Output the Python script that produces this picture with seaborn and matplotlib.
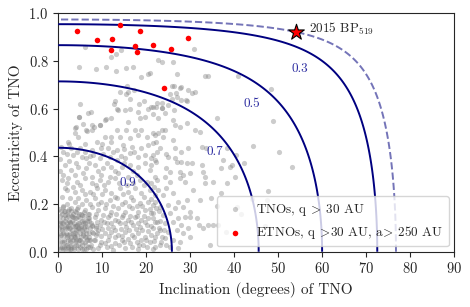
import numpy as np
import pandas as pd
import seaborn as sns
import matplotlib.pyplot as plt

# TNOs with q > 30 AU, (inclination deg, eccentricity)
tno_high = [
    (6.0, 0.86), (14.2, 0.846), (13.2, 0.828), (12.0, 0.818), (4.6, 0.773), (8.6, 0.765),
    (10.8, 0.776), (13.1, 0.759), (15.4, 0.772), (16.9, 0.776), (18.7, 0.733), (20.4, 0.745),
    (22.7, 0.804), (23.6, 0.796), (26.1, 0.796), (27.0, 0.745), (30.8, 0.850), (27.7, 0.685),
    (29.6, 0.678), (31.1, 0.670), (33.3, 0.737), (34.1, 0.737), (40.8, 0.736), (48.3, 0.684),
    (15.6, 0.695), (14.0, 0.668), (15.8, 0.671), (12.8, 0.632), (16.2, 0.639), (18.3, 0.618),
    (19.6, 0.632), (21.1, 0.608), (4.9, 0.620), (12.7, 0.618), (13.4, 0.600), (15.5, 0.660),
    (17.3, 0.680), (23.7, 0.604), (26.4, 0.594), (28.0, 0.636), (29.2, 0.632), (6.7, 0.580),
    (10.8, 0.555), (20.8, 0.748), (25.8, 0.695), (26.3, 0.695), (27.8, 0.690), (30.5, 0.667),
    (25.5, 0.660), (26.7, 0.664), (26.9, 0.650), (29.0, 0.636), (22.4, 0.622), (23.5, 0.625),
    (22.2, 0.608), (25.0, 0.615), (25.8, 0.639), (9.4, 0.531), (7.7, 0.531), (3.7, 0.499),
    (4.0, 0.523), (4.8, 0.564), (6.6, 0.508),
]
tno_mid = [
    (7.5, 0.587), (4.6, 0.566), (5.7, 0.534), (6.4, 0.510), (7.6, 0.510), (8.2, 0.524),
    (9.5, 0.531), (10.6, 0.552), (12.1, 0.559), (13.6, 0.594), (15.2, 0.594), (16.3, 0.598),
    (18.2, 0.587), (20.5, 0.598), (21.6, 0.576), (18.6, 0.559), (19.8, 0.566), (15.9, 0.545),
    (17.4, 0.510), (18.9, 0.510), (15.5, 0.510), (13.3, 0.510), (12.1, 0.482), (10.6, 0.482),
    (8.7, 0.461), (4.5, 0.482), (3.8, 0.517), (2.3, 0.461), (14.0, 0.482), (16.3, 0.475),
    (18.2, 0.489), (20.1, 0.482), (21.6, 0.496), (22.3, 0.461), (20.5, 0.447), (18.9, 0.433),
    (16.7, 0.440), (14.8, 0.447), (13.3, 0.426), (11.4, 0.433), (9.8, 0.433), (7.6, 0.426),
    (6.1, 0.419), (4.9, 0.433), (3.0, 0.433), (1.1, 0.419), (3.4, 0.405), (5.3, 0.398),
    (6.4, 0.391), (8.0, 0.405), (9.5, 0.391), (11.7, 0.398), (13.3, 0.384), (15.2, 0.391),
    (16.3, 0.412), (18.2, 0.398), (19.7, 0.405), (21.2, 0.391), (19.7, 0.370), (18.2, 0.356),
    (16.3, 0.363), (14.4, 0.356), (12.1, 0.356), (10.2, 0.349), (8.3, 0.363), (6.4, 0.349),
    (4.5, 0.356), (3.0, 0.342), (1.5, 0.363), (1.1, 0.321), (3.8, 0.321), (5.7, 0.328),
    (7.6, 0.314), (9.8, 0.321), (11.7, 0.314), (13.6, 0.328), (15.9, 0.314), (17.8, 0.321),
    (20.8, 0.342), (22.0, 0.314), (22.3, 0.377),
    (21.6, 0.608), (23.5, 0.601), (22.7, 0.559), (24.2, 0.580), (26.1, 0.552), (27.7, 0.524),
    (26.5, 0.531), (29.2, 0.538), (36.0, 0.562), (31.1, 0.510), (32.2, 0.503), (23.5, 0.510),
    (24.2, 0.510), (22.0, 0.489), (22.7, 0.496), (23.9, 0.482), (26.1, 0.468), (21.6, 0.454),
    (23.1, 0.433), (22.4, 0.419), (26.5, 0.433), (28.0, 0.419), (29.5, 0.436), (32.6, 0.440),
    (33.7, 0.433), (21.6, 0.405), (22.0, 0.384), (24.6, 0.408), (25.0, 0.398), (26.5, 0.391),
    (26.9, 0.377), (28.0, 0.377), (29.2, 0.370), (30.3, 0.370), (32.6, 0.363), (37.1, 0.349),
    (39.0, 0.356), (39.4, 0.363), (37.5, 0.384), (38.3, 0.433), (21.2, 0.363), (24.6, 0.349),
    (25.4, 0.335), (27.7, 0.335), (28.4, 0.321), (29.9, 0.328), (33.0, 0.335), (33.3, 0.314),
    (42.2, 0.371), (53.2, 0.354), (50.2, 0.417), (44.2, 0.443), (48.9, 0.550), (40.5, 0.406),
    (2.0, 0.29), (5.0, 0.28), (8.5, 0.28), (10.4, 0.28), (13.8, 0.29), (15.6, 0.28),
    (17.0, 0.29), (19.6, 0.28), (21.8, 0.27), (0.5, 0.34), (2.5, 0.38), (4.0, 0.37),
    (7.0, 0.37), (9.0, 0.34), (11.0, 0.37), (13.0, 0.34), (15.0, 0.37), (17.0, 0.34),
    (0.4, 0.39), (2.0, 0.41), (4.2, 0.42), (7.2, 0.40), (10.2, 0.41), (12.5, 0.42),
    (14.2, 0.40), (17.3, 0.42), (0.6, 0.44), (2.4, 0.45), (6.0, 0.45), (10.0, 0.45),
    (12.0, 0.46), (15.0, 0.43),
]
tno_low = [
    (0.8, 0.301), (2.3, 0.308), (4.2, 0.294), (6.1, 0.311), (7.6, 0.287), (9.5, 0.301),
    (11.4, 0.294), (12.9, 0.308), (18.6, 0.301), (20.1, 0.294), (1.5, 0.266), (3.4, 0.273),
    (5.3, 0.259), (7.2, 0.252), (8.7, 0.266), (10.6, 0.259), (12.1, 0.245), (14.0, 0.266),
    (15.9, 0.252), (17.4, 0.266), (18.9, 0.245), (20.8, 0.259), (22.0, 0.238), (0.8, 0.231),
    (2.7, 0.224), (4.5, 0.224), (6.4, 0.217), (8.3, 0.224), (9.8, 0.210), (11.7, 0.217),
    (13.3, 0.224), (15.2, 0.210), (17.0, 0.217), (18.6, 0.203), (20.5, 0.210), (21.6, 0.196),
    (1.1, 0.189), (3.0, 0.182), (4.5, 0.189), (6.1, 0.175), (7.6, 0.189), (9.1, 0.175),
    (10.6, 0.182), (12.1, 0.168), (13.6, 0.182), (15.2, 0.168), (16.7, 0.182), (18.2, 0.168),
    (19.7, 0.175), (21.2, 0.161), (22.3, 0.182), (1.5, 0.154), (3.4, 0.147), (5.3, 0.154),
    (6.8, 0.140), (8.3, 0.147), (9.8, 0.133), (11.4, 0.147), (12.9, 0.133), (14.4, 0.147),
    (15.9, 0.133), (17.4, 0.147), (18.9, 0.133), (20.5, 0.140), (22.0, 0.126), (0.8, 0.119),
    (2.7, 0.126), (4.2, 0.112), (6.1, 0.119), (7.6, 0.112), (9.5, 0.112), (11.0, 0.119),
    (12.5, 0.105), (14.0, 0.119), (15.5, 0.105), (17.0, 0.112), (18.6, 0.105), (20.1, 0.112),
    (21.6, 0.098), (7.6, 0.084), (9.1, 0.091), (10.6, 0.077), (12.1, 0.084), (13.6, 0.070),
    (15.2, 0.084), (16.7, 0.070), (18.2, 0.077), (19.7, 0.063), (21.2, 0.070), (8.3, 0.049),
    (9.8, 0.042), (11.4, 0.049), (12.9, 0.035), (14.4, 0.049), (16.3, 0.035), (17.8, 0.042),
    (19.3, 0.028), (20.8, 0.042), (9.1, 0.014), (11.0, 0.021), (12.5, 0.007), (15.2, 0.014),
    (18.2, 0.012), (22.0, 0.021),
    (21.2, 0.287), (22.4, 0.301), (24.2, 0.315), (25.4, 0.294), (27.7, 0.308), (28.8, 0.294),
    (22.7, 0.259), (24.6, 0.266), (23.9, 0.238), (26.1, 0.245), (27.3, 0.210), (29.2, 0.217),
    (22.0, 0.210), (23.1, 0.189), (25.0, 0.196), (26.5, 0.182), (28.4, 0.189), (29.9, 0.168),
    (21.6, 0.161), (23.9, 0.154), (25.4, 0.161), (27.3, 0.140), (28.8, 0.147), (22.4, 0.126),
    (24.2, 0.119), (26.1, 0.126), (28.0, 0.112), (29.5, 0.098), (23.1, 0.091), (25.0, 0.084),
    (26.9, 0.091), (28.4, 0.077), (22.0, 0.063), (24.2, 0.056), (26.1, 0.049), (27.7, 0.042),
    (23.1, 0.028), (25.4, 0.021), (27.3, 0.014), (29.9, 0.063),
    (30.7, 0.259), (32.2, 0.217), (33.3, 0.287), (35.2, 0.294), (34.7, 0.224), (36.0, 0.193),
    (37.1, 0.245), (38.4, 0.287), (32.0, 0.112), (33.0, 0.098), (34.1, 0.112), (35.2, 0.112),
    (34.5, 0.028), (31.5, 0.140), (29.9, 0.147), (36.4, 0.112), (40.7, 0.189), (41.5, 0.157),
    (38.1, 0.081), (47.0, 0.108), (44.0, 0.220), (47.7, 0.253), (47.4, 0.218), (40.2, 0.315),
    (1.9, 0.26), (3.9, 0.25), (6.0, 0.24), (8.0, 0.24), (10.0, 0.24), (12.8, 0.23),
    (14.8, 0.24), (16.5, 0.23), (19.5, 0.23), (21.0, 0.22), (2.0, 0.20), (3.8, 0.21),
    (5.5, 0.20), (7.2, 0.20), (9.0, 0.20), (10.8, 0.20), (12.5, 0.19), (14.4, 0.20),
    (16.0, 0.19), (17.8, 0.19), (19.0, 0.19), (20.8, 0.18), (23.0, 0.17), (2.2, 0.17),
    (4.0, 0.165), (5.8, 0.165), (7.0, 0.16), (8.6, 0.16), (10.2, 0.155), (11.8, 0.155),
    (13.2, 0.16), (14.8, 0.155), (16.4, 0.15), (18.0, 0.15), (19.6, 0.15), (21.6, 0.14),
    (23.2, 0.13), (7.0, 0.13), (8.8, 0.125), (10.4, 0.125), (12.0, 0.12), (13.6, 0.13),
    (15.2, 0.12), (16.6, 0.125), (18.2, 0.12), (19.8, 0.125), (21.0, 0.11), (22.8, 0.10),
    (24.0, 0.09), (8.6, 0.10), (10.0, 0.095), (11.2, 0.10), (12.8, 0.09), (14.2, 0.095),
    (16.0, 0.09), (17.6, 0.095), (19.0, 0.09), (20.4, 0.085), (22.4, 0.08), (23.6, 0.06),
    (8.6, 0.07), (9.8, 0.065), (11.6, 0.065), (13.0, 0.06), (14.6, 0.065), (15.8, 0.055),
    (17.2, 0.06), (18.8, 0.05), (20.0, 0.05), (21.8, 0.045), (23.4, 0.04), (9.4, 0.03),
    (10.6, 0.035), (12.0, 0.025), (13.8, 0.03), (15.0, 0.04), (16.8, 0.02), (18.4, 0.03),
    (20.2, 0.02), (21.6, 0.01), (24.6, 0.03),
]
tno_core = [
    (0.5, 0.02), (1.2, 0.05), (0.8, 0.09), (1.5, 0.13), (2.0, 0.03), (2.4, 0.07), (2.1, 0.11),
    (2.8, 0.15), (3.0, 0.01), (3.3, 0.05), (3.1, 0.09), (3.6, 0.12), (4.0, 0.03), (4.2, 0.07),
    (4.5, 0.10), (4.1, 0.14), (5.0, 0.02), (5.2, 0.06), (5.5, 0.09), (5.3, 0.13), (6.0, 0.04),
    (6.3, 0.08), (6.1, 0.11), (6.8, 0.02), (7.0, 0.06), (7.2, 0.10), (0.3, 0.06), (0.6, 0.11),
    (0.4, 0.15), (1.0, 0.01), (1.8, 0.08), (1.6, 0.17), (2.6, 0.01), (2.7, 0.10), (3.5, 0.02),
    (3.8, 0.08), (3.4, 0.16), (4.7, 0.05), (4.8, 0.12), (5.8, 0.01), (5.7, 0.07), (5.9, 0.15),
    (6.5, 0.05), (6.6, 0.13), (7.5, 0.03), (7.8, 0.08), (1.3, 0.02), (1.1, 0.12), (2.2, 0.05),
    (2.5, 0.13), (3.9, 0.11), (4.4, 0.01), (4.6, 0.16), (5.4, 0.04), (6.2, 0.01), (7.4, 0.12),
    (0.9, 0.04), (1.9, 0.10), (2.9, 0.06), (3.2, 0.13), (4.3, 0.09), (5.1, 0.11), (6.4, 0.09),
    (8.2, 0.05), (8.5, 0.11), (0.2, 0.10), (1.4, 0.07), (2.3, 0.15), (3.7, 0.04), (4.9, 0.08),
    (5.6, 0.12), (6.9, 0.08), (7.1, 0.14), (8.0, 0.01), (1.7, 0.03), (2.0, 0.12), (3.0, 0.03),
    (3.9, 0.06), (5.0, 0.14), (6.7, 0.16), (0.7, 0.07), (1.5, 0.10), (2.6, 0.04), (3.5, 0.07),
    (4.4, 0.12), (5.3, 0.01), (6.0, 0.06), (7.3, 0.05), (0.4, 0.13), (2.1, 0.01), (4.0, 0.05),
    (5.8, 0.10), (7.7, 0.11), (8.8, 0.08), (0.6, 0.17), (2.4, 0.18), (4.2, 0.18),
    (0.3, 0.01), (0.9, 0.02), (1.6, 0.01), (2.3, 0.02), (2.9, 0.02), (3.6, 0.01), (4.5, 0.03),
    (5.5, 0.03), (6.4, 0.03), (7.2, 0.02), (0.5, 0.04), (1.4, 0.04), (2.0, 0.06), (2.7, 0.05),
    (3.5, 0.06), (4.4, 0.05), (5.0, 0.05), (6.2, 0.06), (6.9, 0.05), (0.5, 0.08), (1.1, 0.08),
    (1.9, 0.07), (2.6, 0.08), (3.4, 0.08), (4.1, 0.09), (4.8, 0.10), (5.6, 0.08), (6.5, 0.11),
    (0.9, 0.10), (1.7, 0.11), (2.4, 0.10), (3.3, 0.11), (4.0, 0.11), (5.2, 0.10), (5.9, 0.13),
    (0.3, 0.12), (1.0, 0.14), (1.8, 0.14), (2.6, 0.12), (3.1, 0.15), (3.8, 0.14), (4.4, 0.15),
    (5.1, 0.16), (0.8, 0.16), (1.3, 0.17), (2.0, 0.16), (2.9, 0.17), (3.7, 0.17), (0.2, 0.18),
    (1.0, 0.19),
]

# ETNOs, q > 30 AU, a > 250 AU
etno_inc = [4.25, 8.8, 12.2, 13.95, 18.6, 12.0, 17.4, 18.0, 21.5, 25.6, 29.6, 24.0]
etno_ecc = [0.927, 0.887, 0.891, 0.951, 0.926, 0.845, 0.863, 0.838, 0.868, 0.851, 0.898, 0.687]

# 2015 BP519
bp_inc, bp_ecc = 54.11, 0.921

# levels of sqrt(1-e^2) cos(i)
levels = [0.3, 0.5, 0.7, 0.9]
level_labels = ["0.3", "0.5", "0.7", "0.9"]
label_pos = [(55.0, 0.765), (44.0, 0.618), (35.6, 0.418), (15.9, 0.287)]

sns.set_style("ticks")
plt.rcParams["font.family"] = "serif"
plt.rcParams["font.serif"] = ["cmr10", "DejaVu Serif"]
plt.rcParams["mathtext.fontset"] = "cm"
plt.rcParams["axes.formatter.use_mathtext"] = True

gt = r"$\!>\!$"
tno = pd.DataFrame(tno_high + tno_mid + tno_low + tno_core, columns=["inc", "ecc"])

fig = plt.figure(figsize=(4.7, 3.07), dpi=100)
ax = fig.add_axes([0.124, 0.18, 0.842, 0.777])

sns.scatterplot(data=tno, x="inc", y="ecc", color="grey", alpha=0.4, s=14,
                linewidth=0, label="TNOs, q " + gt + " 30 AU", ax=ax, zorder=2)
sns.scatterplot(x=etno_inc, y=etno_ecc, color="red", s=16, linewidth=0,
                label="ETNOs, q " + gt + "30 AU, a" + gt + " 250 AU", ax=ax, zorder=4)

ii = np.linspace(0, 90, 500)
ee = np.linspace(0, 0.9999, 500)
I, E = np.meshgrid(ii, ee)
Z = np.sqrt(1 - E**2) * np.cos(np.radians(I))
ax.contour(I, E, Z, levels=levels, colors="navy", linewidths=1.4, zorder=3)
bp_level = np.sqrt(1 - bp_ecc**2) * np.cos(np.radians(bp_inc))
ax.contour(I, E, Z, levels=[bp_level], colors="#7474b8", linewidths=1.4,
           linestyles="--", zorder=3)

for lab, (x, y) in zip(level_labels, label_pos):
    ax.text(x, y, lab, color="#2b2ba0", fontsize=9.5, ha="center", va="center")

ax.scatter([bp_inc], [bp_ecc], marker="*", s=140, color="red",
           edgecolor="black", linewidth=0.8, zorder=5)
ax.text(57.0, 0.935, r"2015 BP$_{519}$", fontsize=9.5, va="center")

ax.set_xlim(0, 90)
ax.set_ylim(0, 1)
ax.set_xticks(range(0, 91, 10))
ax.set_yticks([0, 0.2, 0.4, 0.6, 0.8, 1.0])
ax.set_xlabel("Inclination (degrees) of TNO", fontsize=11)
ax.set_ylabel("Eccentricity of TNO", fontsize=11)
ax.tick_params(labelsize=10.5)
ax.legend(loc="lower right", fontsize=9.5, handletextpad=0.6, borderaxespad=0.4)

fig.savefig("out.png", dpi=100)
